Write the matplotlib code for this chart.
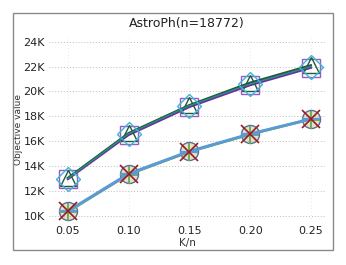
import matplotlib
matplotlib.use("Agg")
import matplotlib.pyplot as plt
from matplotlib.patches import Rectangle
from matplotlib.ticker import FuncFormatter

# Data (objective value in thousands)
k_ratio = [0.05, 0.10, 0.15, 0.20, 0.25]
upper_purple = [12.95, 16.5, 18.75, 20.5, 21.9]
upper_green = [13.05, 16.65, 18.9, 20.7, 22.1]
upper_teal = [13.0, 16.6, 18.85, 20.6, 22.0]
lower_a = [10.35, 13.35, 15.17, 16.56, 17.77]
lower_b = [10.3, 13.3, 15.12, 16.52, 17.74]
lower_c = [10.4, 13.4, 15.2, 16.6, 17.8]
yticks = [10, 12, 14, 16, 18, 20, 22, 24]

fig = plt.figure(figsize=(3.46, 2.65), dpi=100)
ax = fig.add_axes([0.142, 0.162, 0.798, 0.695])

# upper group
ax.plot(k_ratio, upper_purple, color="#6b2fa0", lw=1.6, marker="s", ms=13,
        mfc="none", mec="#9b59c6", mew=1.0, zorder=3)
ax.plot(k_ratio, upper_green, color="#1f5a38", lw=1.6, marker="^", ms=12,
        mfc="none", mec="#1f5a38", mew=1.0, zorder=4)
ax.plot(k_ratio, upper_teal, color="#2c8c8c", lw=1.0, marker="D", ms=12,
        mfc="none", mec="#3cb4d6", mew=1.0, zorder=4)

# lower group
ax.plot(k_ratio, lower_c, color="#5b9bd5", lw=1.8, marker="o", ms=13,
        mfc=(0.72, 0.66, 0.45, 0.35), mec="#5a6f95", mew=1.0, zorder=2)
ax.plot(k_ratio, lower_b, color="#6aa84f", lw=1.4, marker="+", ms=13,
        mec="#6aa84f", mew=1.3, zorder=3)
ax.plot(k_ratio, lower_a, color="#5b9bd5", lw=1.8, marker="_", ms=13,
        mec="#5b9bd5", mew=1.6, zorder=4)
ax.plot(k_ratio, lower_a, ls="none", marker="x", ms=13,
        mec="#9e1a1a", mew=1.2, zorder=5)

ax.set_xlim(0.0346, 0.2618)
ax.set_ylim(9.5, 24.3)
ax.set_xticks(k_ratio)
ax.set_xticklabels([f"{v:.2f}" for v in k_ratio])
ax.set_yticks(yticks)
ax.yaxis.set_major_formatter(FuncFormatter(lambda v, p: f"{int(v)}K"))
ax.tick_params(length=0, labelsize=8, pad=3, colors="#222222")
ax.grid(axis="y", ls=(0, (1, 2)), color="#bbbbbb", lw=0.7)
ax.grid(axis="x", ls=(0, (1, 3)), color="#e0e0e0", lw=0.6)
ax.set_axisbelow(True)
for s in ax.spines.values():
    s.set_visible(False)

ax.set_title("AstroPh(n=18772)", fontsize=9, pad=8, color="#222222")
ax.set_xlabel("K/n", fontsize=7.5, labelpad=1, color="#333333")
ax.set_ylabel("Objective value", fontsize=6.5, labelpad=0, color="#333333")

# outer frame
fig.patches.append(Rectangle((12.5 / 346, 1 - 250 / 265), (333 - 12.5) / 346,
                             (250 - 12.5) / 265, transform=fig.transFigure,
                             fill=False, ec="#8a8a8a", lw=1.0))

fig.savefig("out.png", dpi=100)
